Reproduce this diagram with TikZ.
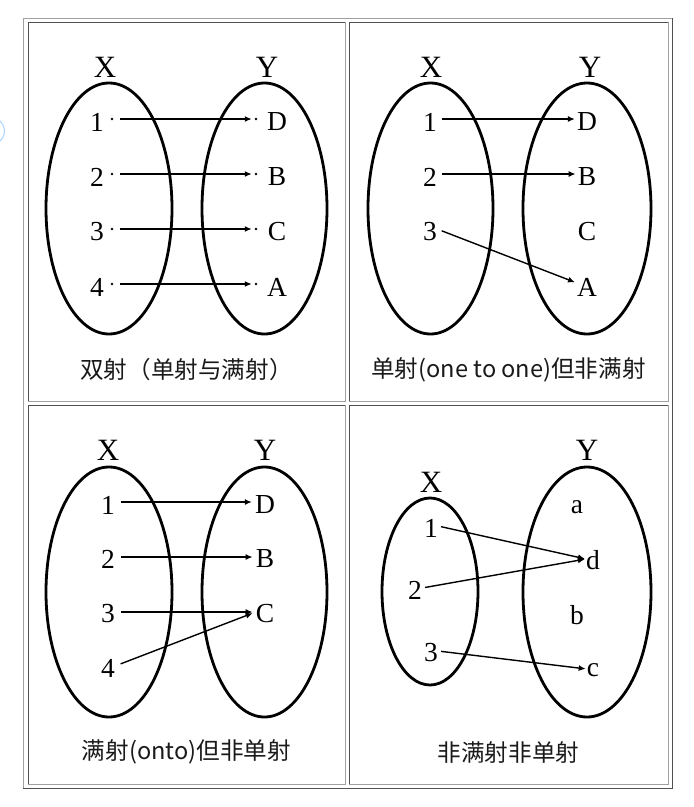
\documentclass[tikz,border=0pt]{standalone}
\usepackage{fontspec}
\setmainfont{Liberation Serif}
\newfontfamily\cjk{Noto Sans CJK SC}
\usetikzlibrary{arrows.meta}
\definecolor{lightline}{HTML}{A0A0A0}
\definecolor{darkline}{HTML}{505050}
\definecolor{captext}{HTML}{1A1A1A}
\definecolor{ringblue}{HTML}{A8D4FF}
\begin{document}
\begin{tikzpicture}[x=1pt,y=-1pt,
  setlbl/.style={font=\fontsize{31}{31}\selectfont, inner sep=0pt},
  elem/.style={font=\fontsize{27.5}{27.5}\selectfont, inner sep=0pt},
  setell/.style={draw, line width=2.8pt},
  maparrow/.style={line width=1.4pt, -{Latex[length=7pt,width=6pt]}},
  dotn/.style={circle, fill, inner sep=0pt, minimum size=2.8pt},
  capt/.style={font=\cjk\fontsize{23.6}{23.6}\selectfont, text=captext, inner sep=0pt},
  lborder/.style={draw=lightline, line width=1pt},
  dborder/.style={draw=darkline, line width=1pt}]
\useasboundingbox (0,0) rectangle (694,807);
\fill[white] (0,0) rectangle (694,807);
% faint ring at the left edge
\draw[ringblue, line width=1pt] (-9,131) ++(-75:13.5) arc[start angle=-75, end angle=75, radius=13.5];
% outer table border
\draw[lborder] (23,788) -- (23,18) -- (672,18);
\draw[dborder] (672,18) -- (672,788) -- (23,788);
% cells
\foreach \xa/\ya/\xb/\yb in {28/22/345/401, 349/22/668/401, 28/405/345/784, 349/405/668/784}{
  \draw[dborder] (\xa,\yb) -- (\xa,\ya) -- (\xb,\ya);
  \draw[lborder] (\xb,\ya) -- (\xb,\yb) -- (\xa,\yb);
}

% ---------- top-left: bijection ----------
\node[setlbl] (tlX) at (105,67) {X};
\node[setlbl] (tlY) at (267,67) {Y};
\draw[setell] (109,208.5) ellipse [x radius=63, y radius=125.5];
\draw[setell] (264.5,208.5) ellipse [x radius=62.5, y radius=125.5];
\foreach \n/\l/\y in {1/D/122, 2/B/177, 3/C/232, 4/A/287}{
  \node[elem] (tl\n) at (97,\y) {\n};
  \node[elem] (tl\l) at (277,\y) {\l};
  \node[dotn] (tl\n d) at (112,\y-3) {};
  \node[dotn] (tl\l d) at (256,\y-3) {};
  \draw[maparrow, shorten <=6.5pt, shorten >=2.6pt] (tl\n d) -- (tl\l d);
}
\node[capt] (tlcap) at (186.5,370) {双射（单射与满射）};

% ---------- top-right: injection ----------
\node[setlbl] (trX) at (431,67) {X};
\node[setlbl] (trY) at (590,67) {Y};
\draw[setell] (430.5,208.5) ellipse [x radius=62.5, y radius=125.5];
\draw[setell] (587,208.5) ellipse [x radius=64, y radius=125.5];
\node[elem] (tr1) at (430,122) {1};
\node[elem] (tr2) at (430,177) {2};
\node[elem] (tr3) at (430,232) {3};
\node[elem] (trD) at (587,122) {D};
\node[elem] (trB) at (587,177) {B};
\node[elem] (trC) at (587,232) {C};
\node[elem] (trA) at (587,287) {A};
\draw[maparrow, shorten <=5pt, shorten >=2pt] ([yshift=3pt]tr1.east) -- ([yshift=3pt]trD.west);
\draw[maparrow, shorten <=5pt, shorten >=2pt] ([yshift=3pt]tr2.east) -- ([yshift=3pt]trB.west);
\draw[maparrow, shorten <=5pt, shorten >=2pt] ([yshift=3pt]tr3.east) -- ([yshift=4pt]trA.west);
\node[capt] (trcap) at (508.5,370) {单射(one to one)但非满射};

% ---------- bottom-left: surjection ----------
\node[setlbl] (blX) at (108,450) {X};
\node[setlbl] (blY) at (265,450) {Y};
\draw[setell] (109,592) ellipse [x radius=63, y radius=125];
\draw[setell] (264.5,592) ellipse [x radius=62.5, y radius=125];
\node[elem] (bl1) at (108,505) {1};
\node[elem] (bl2) at (108,559) {2};
\node[elem] (bl3) at (108,614) {3};
\node[elem] (bl4) at (108,668) {4};
\node[elem] (blD) at (265,505) {D};
\node[elem] (blB) at (265,559) {B};
\node[elem] (blC) at (265,614) {C};
\draw[maparrow, shorten <=6pt, shorten >=3pt] ([yshift=3pt]bl1.east) -- ([yshift=3pt]blD.west);
\draw[maparrow, shorten <=6pt, shorten >=3pt] ([yshift=2pt]bl2.east) -- ([yshift=2pt]blB.west);
\draw[maparrow, shorten <=6pt, shorten >=3pt] ([yshift=2pt]bl3.east) -- ([yshift=2pt]blC.west);
\draw[maparrow, shorten <=6pt, shorten >=3pt] ([yshift=2pt]bl4.east) -- ([yshift=2pt]blC.west);
\node[capt] (blcap) at (186.5,752) {满射(onto)但非单射};

% ---------- bottom-right: neither ----------
\node[setlbl] (brX) at (431,482) {X};
\node[setlbl] (brY) at (587,450) {Y};
\draw[setell] (430,591.5) ellipse [x radius=48, y radius=93.5];
\draw[setell] (587,592) ellipse [x radius=64, y radius=125];
\node[elem] (br1) at (431,528) {1};
\node[elem] (br2) at (415,590) {2};
\node[elem] (br3) at (431,653) {3};
\node[elem] (bra) at (577,507) {a};
\node[elem] (brd) at (593,560) {d};
\node[elem] (brb) at (577,615) {b};
\node[elem] (brc) at (593,670) {c};
\draw[maparrow, shorten <=3pt, shorten >=1pt] ([yshift=2pt]br1.east) -- ([yshift=1pt]brd.west);
\draw[maparrow, shorten <=3pt, shorten >=1pt] ([yshift=2pt]br2.east) -- ([yshift=1pt]brd.west);
\draw[maparrow, shorten <=3pt, shorten >=1pt] ([yshift=2pt]br3.east) -- ([yshift=1pt]brc.west);
\node[capt] (brcap) at (508.5,753) {非满射非单射};
\end{tikzpicture}
\end{document}
